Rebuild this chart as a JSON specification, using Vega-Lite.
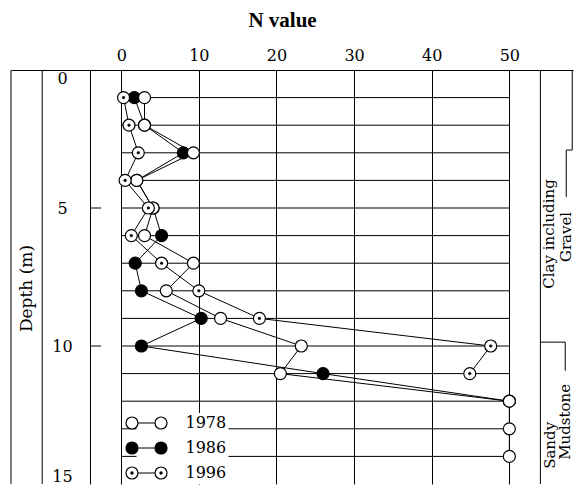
{
  "$schema": "https://vega.github.io/schema/vega-lite/v6.json",
  "autosize": "none",
  "width": 562,
  "height": 414,
  "padding": {"left": 11, "top": 70, "right": 3, "bottom": 2},
  "background": "white",
  "config": {"view": {"stroke": null}, "font": "DejaVu Serif"},
  "datasets": {
    "spt": [
      {"year": "1986", "depth": 1, "n": 1.7},
      {"year": "1986", "depth": 2, "n": 3},
      {"year": "1986", "depth": 3, "n": 8},
      {"year": "1986", "depth": 4, "n": 2},
      {"year": "1986", "depth": 5, "n": 4.1},
      {"year": "1986", "depth": 6, "n": 5.2},
      {"year": "1986", "depth": 7, "n": 1.8},
      {"year": "1986", "depth": 8, "n": 2.6},
      {"year": "1986", "depth": 9, "n": 10.3},
      {"year": "1986", "depth": 10, "n": 2.6},
      {"year": "1986", "depth": 11, "n": 26},
      {"year": "1986", "depth": 12, "n": 50},
      {"year": "1978", "depth": 1, "n": 3},
      {"year": "1978", "depth": 2, "n": 3},
      {"year": "1978", "depth": 3, "n": 9.3},
      {"year": "1978", "depth": 4, "n": 2},
      {"year": "1978", "depth": 5, "n": 4.1},
      {"year": "1978", "depth": 6, "n": 3},
      {"year": "1978", "depth": 7, "n": 9.3},
      {"year": "1978", "depth": 8, "n": 5.8},
      {"year": "1978", "depth": 9, "n": 12.8},
      {"year": "1978", "depth": 10, "n": 23.2},
      {"year": "1978", "depth": 11, "n": 20.5},
      {"year": "1978", "depth": 12, "n": 50},
      {"year": "1978", "depth": 13, "n": 50},
      {"year": "1978", "depth": 14, "n": 50},
      {"year": "1996", "depth": 1, "n": 0.3},
      {"year": "1996", "depth": 2, "n": 1},
      {"year": "1996", "depth": 3, "n": 2.2},
      {"year": "1996", "depth": 4, "n": 0.5},
      {"year": "1996", "depth": 5, "n": 3.5},
      {"year": "1996", "depth": 6, "n": 1.3},
      {"year": "1996", "depth": 7, "n": 5.2},
      {"year": "1996", "depth": 8, "n": 10},
      {"year": "1996", "depth": 9, "n": 17.8},
      {"year": "1996", "depth": 10, "n": 47.6},
      {"year": "1996", "depth": 11, "n": 44.9}
    ],
    "rows": [
      {"depth": 1}, {"depth": 2}, {"depth": 3}, {"depth": 4}, {"depth": 5},
      {"depth": 6}, {"depth": 7}, {"depth": 8}, {"depth": 9}, {"depth": 10},
      {"depth": 11}, {"depth": 12}, {"depth": 13}, {"depth": 14}
    ],
    "ticks": [{"depth": 5}, {"depth": 10}],
    "one": [{}]
  },
  "layer": [
    {
      "data": {"name": "rows"},
      "mark": {"type": "rule", "stroke": "black", "strokeWidth": 1},
      "encoding": {
        "x": {
          "datum": 0,
          "type": "quantitative",
          "scale": {"domain": [-14.2, 58.2], "nice": false, "zero": false},
          "axis": {
            "orient": "top",
            "values": [0, 10, 20, 30, 40, 50],
            "grid": true,
            "gridColor": "black",
            "gridOpacity": 1,
            "gridWidth": 1,
            "ticks": false,
            "domain": true,
            "domainColor": "black",
            "domainWidth": 1,
            "labelFont": "DejaVu Serif",
            "labelFontSize": 16,
            "labelColor": "black",
            "labelPadding": 7,
            "labelFlush": false,
            "labelOverlap": false,
            "title": "N value",
            "titleFont": "Liberation Serif",
            "titleFontSize": 21,
            "titleFontWeight": "bold",
            "titleColor": "black",
            "titleX": 271,
            "titleY": -50,
            "titleBaseline": "middle",
            "titleAlign": "center"
          }
        },
        "x2": {"datum": 50},
        "y": {
          "field": "depth",
          "type": "quantitative",
          "scale": {"domain": [0, 15], "reverse": true, "nice": false, "zero": false},
          "axis": {
            "orient": "left",
            "offset": -79,
            "values": [0, 5, 10, 15],
            "grid": false,
            "ticks": false,
            "domain": true,
            "domainColor": "black",
            "domainWidth": 1,
            "labelFont": "DejaVu Serif",
            "labelFontSize": 16,
            "labelColor": "black",
            "labelAlign": "center",
            "labelPadding": 28,
            "labelFlush": true,
            "title": "Depth (m)",
            "titleFont": "DejaVu Serif",
            "titleFontSize": 17,
            "titleFontWeight": "normal",
            "titleColor": "black",
            "titleX": -64,
            "titleY": 218,
            "titleAngle": 270,
            "titleBaseline": "middle",
            "titleAlign": "center"
          }
        }
      }
    },
    {
      "data": {"name": "ticks"},
      "mark": {"type": "rule", "stroke": "black", "strokeWidth": 1},
      "encoding": {"x": {"datum": -4}, "x2": {"datum": -2.6}, "y": {"field": "depth", "type": "quantitative"}}
    },
    {
      "data": {"name": "one"},
      "mark": {"type": "rule", "stroke": "black", "strokeWidth": 1},
      "encoding": {"x": {"datum": -14.2}, "y": {"datum": 0}, "y2": {"datum": 15}}
    },
    {
      "data": {"name": "one"},
      "mark": {"type": "rule", "stroke": "black", "strokeWidth": 1},
      "encoding": {"x": {"datum": -10.18}, "y": {"datum": 0}, "y2": {"datum": 15}}
    },
    {
      "data": {"name": "one"},
      "mark": {"type": "rule", "stroke": "black", "strokeWidth": 1},
      "encoding": {"x": {"datum": 54}, "y": {"datum": 0}, "y2": {"datum": 15}}
    },
    {
      "data": {"name": "one"},
      "mark": {"type": "rule", "stroke": "black", "strokeWidth": 1},
      "encoding": {"x": {"datum": 58.1}, "y": {"datum": 0}, "y2": {"datum": 2.9}}
    },
    {
      "data": {"name": "one"},
      "mark": {"type": "rule", "stroke": "black", "strokeWidth": 1},
      "encoding": {"x": {"datum": 57.33}, "x2": {"datum": 58.1}, "y": {"datum": 2.9}}
    },
    {
      "data": {"name": "one"},
      "mark": {"type": "rule", "stroke": "black", "strokeWidth": 1},
      "encoding": {"x": {"datum": 57.33}, "y": {"datum": 2.9}, "y2": {"datum": 4.6}}
    },
    {
      "data": {"name": "one"},
      "mark": {"type": "rule", "stroke": "black", "strokeWidth": 1},
      "encoding": {"x": {"datum": 54}, "x2": {"datum": 57.2}, "y": {"datum": 9.86}}
    },
    {
      "data": {"name": "one"},
      "mark": {"type": "rule", "stroke": "black", "strokeWidth": 1},
      "encoding": {"x": {"datum": 57.2}, "y": {"datum": 9.86}, "y2": {"datum": 10.9}}
    },
    {
      "data": {"name": "spt"},
      "mark": {"type": "line", "stroke": "black", "strokeWidth": 1},
      "encoding": {
        "x": {"field": "n", "type": "quantitative"},
        "y": {"field": "depth", "type": "quantitative"},
        "detail": {"field": "year"},
        "order": {"field": "depth", "type": "quantitative"}
      }
    },
    {
      "data": {"name": "spt"},
      "mark": {"type": "point", "shape": "circle", "filled": true, "size": 144, "stroke": "black", "strokeWidth": 1.2, "opacity": 1},
      "encoding": {
        "x": {"field": "n", "type": "quantitative"},
        "y": {"field": "depth", "type": "quantitative"},
        "fill": {
          "field": "year",
          "type": "nominal",
          "scale": {"domain": ["1978", "1986", "1996"], "range": ["white", "black", "white"]},
          "legend": {
            "title": null,
            "orient": "none",
            "legendX": 125.5,
            "legendY": 343,
            "padding": 2,
            "fillColor": "white",
            "symbolSize": 144,
            "symbolType": "M-3.42,0A1,1,0,1,1,-1.42,0A1,1,0,1,1,-3.42,0ZM1.42,0A1,1,0,1,1,3.42,0A1,1,0,1,1,1.42,0ZM-1.42,0L1.42,0",
            "symbolStrokeWidth": 1.2,
            "symbolStrokeColor": "black",
            "labelFont": "DejaVu Serif",
            "labelFontSize": 16,
            "labelColor": "black",
            "labelOffset": 31,
            "rowPadding": 7
          }
        }
      }
    },
    {
      "data": {"name": "spt"},
      "transform": [{"filter": "datum.year === '1996'"}],
      "mark": {"type": "point", "shape": "circle", "filled": true, "size": 7, "fill": "black", "strokeWidth": 0.5, "opacity": 1},
      "encoding": {
        "x": {"field": "n", "type": "quantitative"},
        "y": {"field": "depth", "type": "quantitative"},
        "stroke": {
          "field": "year",
          "type": "nominal",
          "scale": {"domain": ["1996"], "range": ["black"]},
          "legend": {
            "title": null,
            "orient": "none",
            "legendX": 125.5,
            "legendY": 393,
            "padding": 2,
            "symbolSize": 144,
            "symbolType": "M-2.6,0A0.18,0.18,0,1,1,-2.24,0A0.18,0.18,0,1,1,-2.6,0ZM2.24,0A0.18,0.18,0,1,1,2.6,0A0.18,0.18,0,1,1,2.24,0Z",
            "symbolStrokeWidth": 1.2,
            "symbolFillColor": "black",
            "labelExpr": "''",
            "labelFontSize": 16
          }
        }
      }
    },
    {
      "data": {"name": "one"},
      "mark": {"type": "text", "angle": 270, "font": "DejaVu Serif", "fontSize": 15, "align": "center", "baseline": "middle", "color": "black", "text": "Clay including"},
      "encoding": {"x": {"datum": 55.15}, "y": {"datum": 5.94}}
    },
    {
      "data": {"name": "one"},
      "mark": {"type": "text", "angle": 270, "font": "DejaVu Serif", "fontSize": 15, "align": "center", "baseline": "middle", "color": "black", "text": "Gravel"},
      "encoding": {"x": {"datum": 57.35}, "y": {"datum": 6.05}}
    },
    {
      "data": {"name": "one"},
      "mark": {"type": "text", "angle": 270, "font": "DejaVu Serif", "fontSize": 15, "align": "center", "baseline": "middle", "color": "black", "text": "Sandy"},
      "encoding": {"x": {"datum": 55.3}, "y": {"datum": 13.6}}
    },
    {
      "data": {"name": "one"},
      "mark": {"type": "text", "angle": 270, "font": "DejaVu Serif", "fontSize": 15, "align": "center", "baseline": "middle", "color": "black", "text": "Mudstone"},
      "encoding": {"x": {"datum": 57.2}, "y": {"datum": 12.75}}
    }
  ]
}
